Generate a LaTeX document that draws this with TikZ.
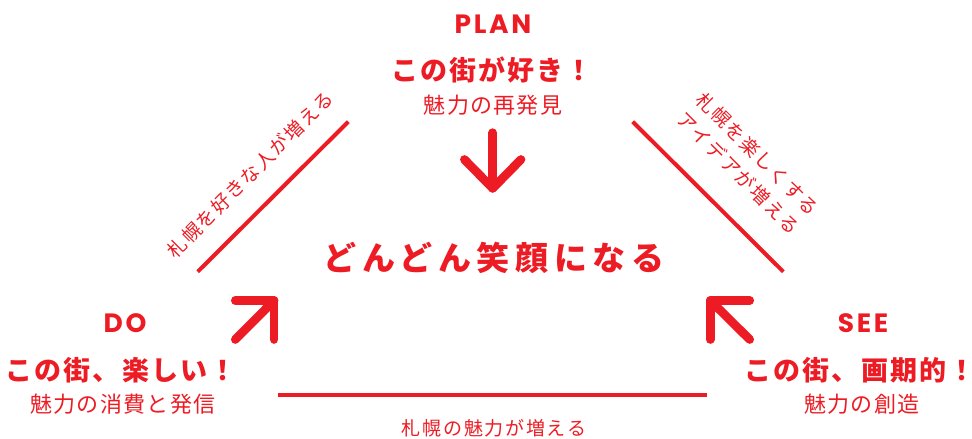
\documentclass[tikz,border=0pt]{standalone}
\usepackage{fontspec}
\setmainfont{Noto Sans CJK JP}
\newfontfamily\latfont{Poppins}[LetterSpace=10]
\newfontfamily\headfont{Noto Sans CJK JP}[LetterSpace=8]
\newfontfamily\subfont{Noto Sans CJK JP}[LetterSpace=6]
\newfontfamily\labfont{Noto Sans CJK JP}[LetterSpace=9]
\newfontfamily\bigfont{Noto Sans CJK JP}[LetterSpace=17]
\definecolor{brand}{HTML}{ED1C24}
\begin{document}
\begin{tikzpicture}[x=1pt,y=-1pt,
  every node/.style={inner sep=0pt, outer sep=0pt, text=brand},
  phase/.style={font=\latfont\bfseries\fontsize{26.5}{26.5}\selectfont},
  head/.style={font=\headfont\bfseries\fontsize{27}{27}\selectfont},
  sub/.style={font=\subfont\fontsize{22}{22}\selectfont},
  lab/.style={font=\labfont\fontsize{19}{27}\selectfont, align=center},
  bigtext/.style={font=\bigfont\bfseries\fontsize{33}{33}\selectfont},
  bar/.style={draw=brand, line width=4pt, line cap=butt},
  arrowline/.style={draw=brand, line width=8.7pt, line cap=round, line join=round}
]
\useasboundingbox (0,0) rectangle (972,439);

% PLAN
\node[phase] (plan) at (493,24) {PLAN};
\node[head] (planh) at (492,70) {この街が好き！};
\node[sub] (plans) at (493,105) {魅力の再発見};

% DO
\node[phase] (do) at (125,323) {DO};
\node[head] (doh) at (121,370) {この街、楽しい！};
\node[sub] (dos) at (123,404) {魅力の消費と発信};

% SEE
\node[phase] (see) at (863,323) {SEE};
\node[head] (seeh) at (854,370) {この街、画期的！\kern-12pt};
\node[sub] (sees) at (862,404) {魅力の創造};

% centre
\node[bigtext] (center) at (494,258) {どんどん笑顔になる};

% bars
\coordinate (l1) at (197.7,271.7);
\coordinate (l2) at (348.3,121.7);
\coordinate (r1) at (632.7,121.7);
\coordinate (r2) at (783.3,271.7);
\coordinate (b1) at (278.3,394.7);
\coordinate (b2) at (707.3,394.7);
\draw[bar] (l1) -- (l2);
\draw[bar] (r1) -- (r2);
\draw[bar] (b1) -- (b2);

% bar labels
\node[lab, rotate=45] (llab) at (250,174.5) {札幌を好きな人が増える};
\node[lab, rotate=-45] (rlab) at (748,163.7) {札幌を楽しくする\\アイデアが増える};
\node[lab] (blab) at (494,428.5) {札幌の魅力が増える};

% arrows
\coordinate (dtop) at (492.7,132.7);
\coordinate (dtip) at (492.7,188.3);
\coordinate (dl) at (464.4,159.5);
\coordinate (dr) at (521,159.5);
\draw[arrowline] (dtop) -- (dtip);
\draw[arrowline] (dl) -- (dtip) -- (dr);

\coordinate (otip) at (274.1,300.5);
\coordinate (oh) at (235.3,300.5);
\coordinate (ov) at (274.1,339.5);
\coordinate (ob) at (235.3,339.5);
\draw[arrowline] (ob) -- (otip);
\draw[arrowline] (oh) -- (otip) -- (ov);

\coordinate (stip) at (710.3,300.5);
\coordinate (sh) at (749.7,300.5);
\coordinate (sv) at (710.3,339.5);
\coordinate (sb) at (749.7,339.5);
\draw[arrowline] (sb) -- (stip);
\draw[arrowline] (sh) -- (stip) -- (sv);
\end{tikzpicture}
\end{document}
